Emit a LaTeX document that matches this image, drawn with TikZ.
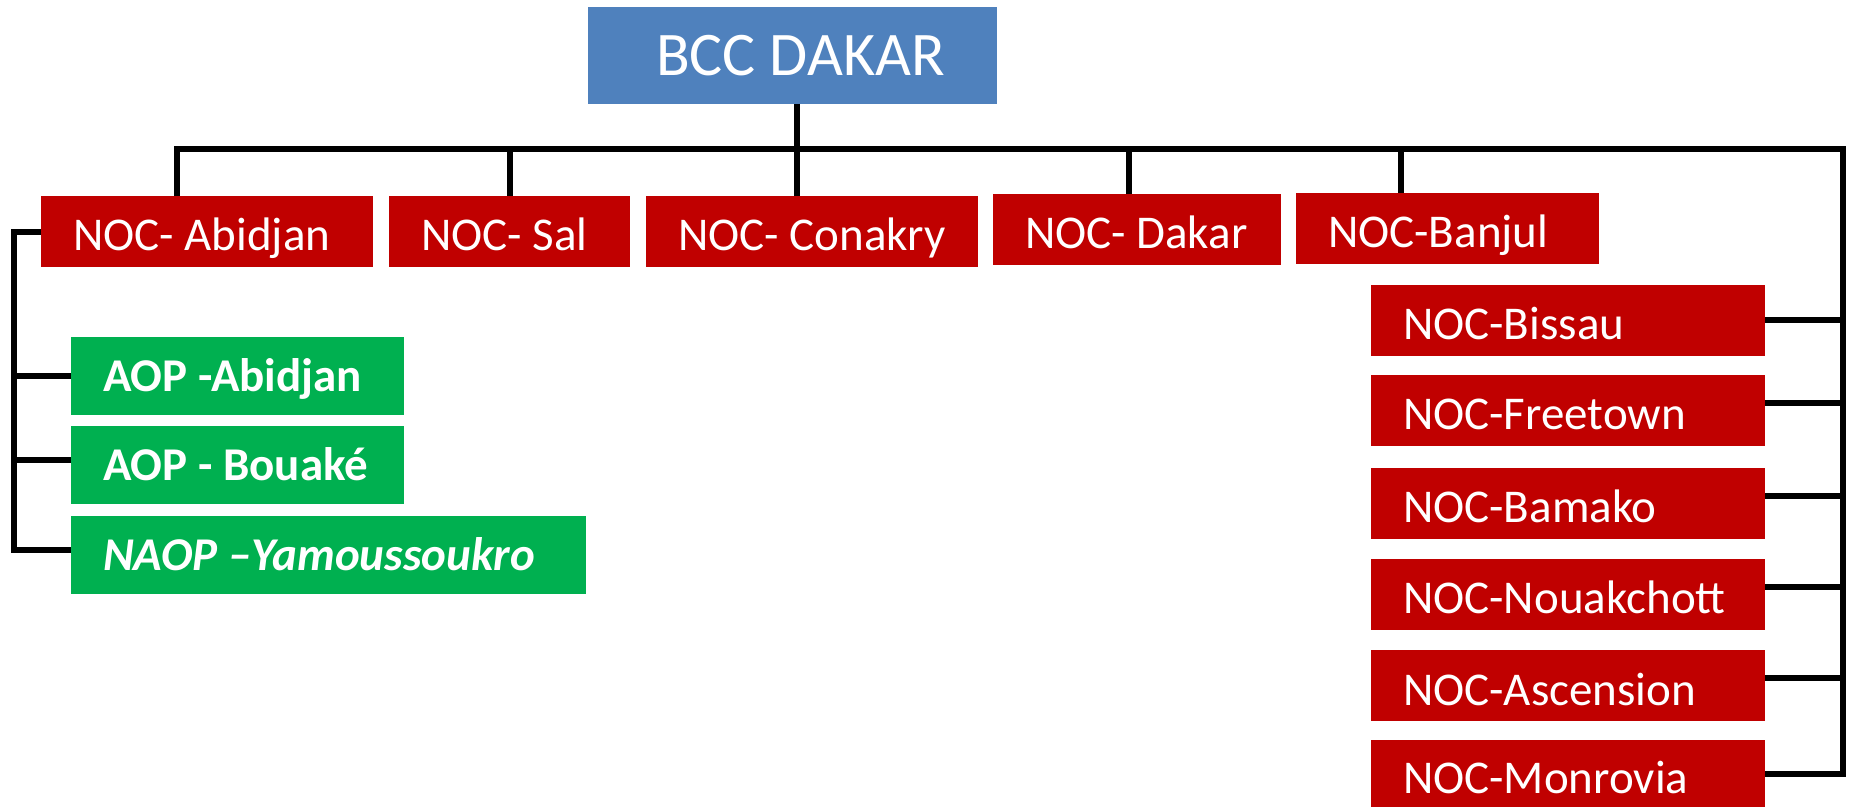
\documentclass[tikz,border=0pt]{standalone}
\usepackage{fontspec}
\setmainfont{Carlito}
\definecolor{nocred}{HTML}{C00000}
\definecolor{aopgreen}{HTML}{00B050}
\definecolor{bccblue}{HTML}{4F81BD}
\newcommand{\lbx}[2]{\makebox[#1][l]{#2}}
\begin{document}
\begin{tikzpicture}[x=0.5pt,y=-0.5pt,line width=3pt,line join=miter,
  box/.style={anchor=north west,inner xsep=16pt,inner ysep=0pt,outer sep=0pt,text=white,
    font=\fontsize{23.5pt}{28pt}\selectfont,text height=27.5pt,text depth=8pt},
  redbox/.style={box,fill=nocred},
  greenbox/.style={box,fill=aopgreen,text depth=11.5pt,
    font=\fontsize{23.5pt}{28pt}\selectfont\bfseries},
  bluebox/.style={anchor=north west,inner sep=0pt,outer sep=0pt,fill=bccblue,text=white,
    font=\fontsize{31pt}{36pt}\selectfont,text height=34.5pt,text depth=14pt}]
\useasboundingbox (0,0) rectangle (1849,807);
\clip (0,0) rectangle (1849,807);
% top
\node[bluebox] (bcc) at (588,7) {\makebox[204.5pt][c]{\hspace{8pt}BCC DAKAR}};
% first row
\node[redbox] (nocabidjan) at (41,196) {\lbx{134pt}{NOC- Abidjan}};
\node[redbox] (nocsal) at (389,196) {\lbx{88.5pt}{NOC- Sal}};
\node[redbox] (noconakry) at (646,196) {\lbx{134pt}{NOC- Conakry}};
\node[redbox] (nocdakar) at (993,194) {\lbx{112pt}{NOC- Dakar}};
\node[redbox] (nocbanjul) at (1296,193) {\lbx{119.5pt}{NOC-Banjul}};
% right column
\node[redbox] (bissau) at (1371,285) {\lbx{165pt}{NOC-Bissau}};
\node[redbox] (freetown) at (1371,375) {\lbx{165pt}{NOC-Freetown}};
\node[redbox] (bamako) at (1371,468) {\lbx{165pt}{NOC-Bamako}};
\node[redbox] (nouakchott) at (1371,559) {\lbx{165pt}{NOC-Nouakchott}};
\node[redbox] (ascension) at (1371,650) {\lbx{165pt}{NOC-Ascension}};
\node[redbox,text height=26.75pt,text depth=6.75pt] (monrovia) at (1371,740) {\lbx{165pt}{NOC-Monrovia}};
% green
\node[greenbox] (aopabidjan) at (71,337) {\lbx{134.5pt}{AOP -Abidjan}};
\node[greenbox] (bouake) at (71,426) {\lbx{134.5pt}{AOP - Bouaké}};
\node[greenbox] (naop) at (71,516) {\lbx{225.5pt}{\itshape NAOP –Yamoussoukro}};
% bus coordinates
\coordinate (bA) at (177,149.5);
\coordinate (bB) at (1401,149.5);
\coordinate (bR) at (1842.5,149.5);
\coordinate (lb) at (13.5,0);
% connectors
\draw (bA |- nocabidjan.north) -- (bA) -- (bR) |- (monrovia.east);
\draw (nocsal.north) -- (nocsal.north |- bA);
\draw ([xshift=2.25pt]bcc.south) -- ([xshift=2.25pt]bcc.south |- noconakry.north);
\draw ([xshift=-4pt]nocdakar.north) -- ([xshift=-4pt]nocdakar.north |- bA);
\draw (bB) -- (bB |- nocbanjul.north);
\draw (bissau.east) -- (bissau.east -| bR);
\draw ([yshift=3.5pt]freetown.east) -- ([yshift=3.5pt]freetown.east -| bR);
\draw ([yshift=3.5pt]bamako.east) -- ([yshift=3.5pt]bamako.east -| bR);
\draw ([yshift=3.5pt]nouakchott.east) -- ([yshift=3.5pt]nouakchott.east -| bR);
\draw ([yshift=3.5pt]ascension.east) -- ([yshift=3.5pt]ascension.east -| bR);
\draw ([yshift=-0.5pt]nocabidjan.west) -| ([yshift=2.5pt]naop.west -| lb) -- ([yshift=2.5pt]naop.west);
\draw (aopabidjan.west) -- (aopabidjan.west -| lb);
\draw ([yshift=2.5pt]bouake.west) -- ([yshift=2.5pt]bouake.west -| lb);
\end{tikzpicture}
\end{document}
